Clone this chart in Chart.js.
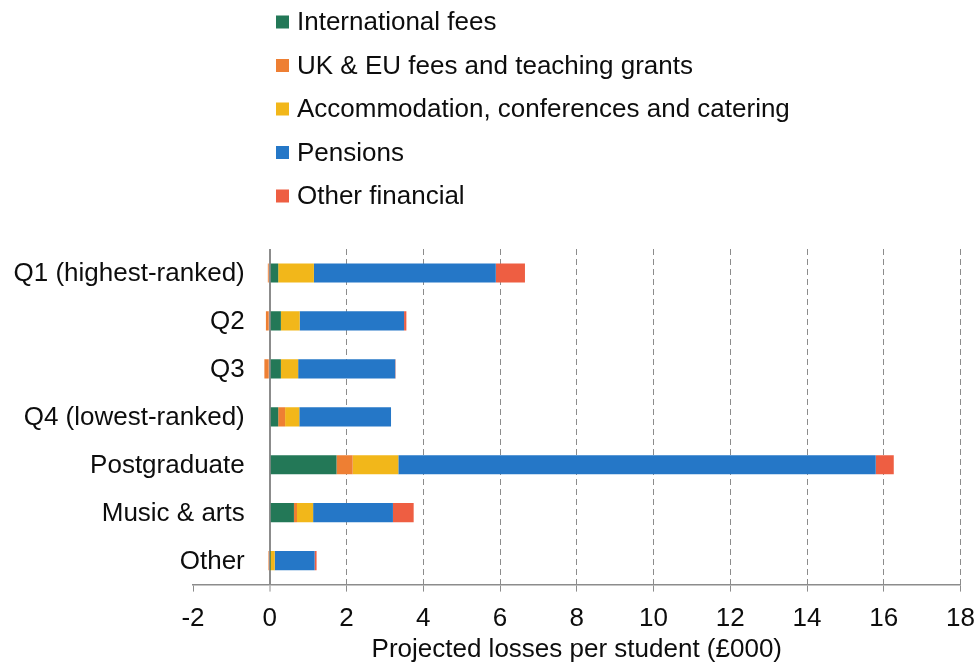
<!DOCTYPE html>
<html>
<head>
<meta charset="utf-8">
<script src="https://cdn.jsdelivr.net/npm/chart.js@4.4.0/dist/chart.umd.min.js"></script>
<style>
  html, body { margin: 0; padding: 0; background: #ffffff; }
  #wrap { width: 978px; height: 664px; }
</style>
</head>
<body>
<div id="wrap"><canvas id="c" width="978" height="664"></canvas></div>
<script>
// ---- Data ----
const categories = ["Q1 (highest-ranked)", "Q2", "Q3", "Q4 (lowest-ranked)", "Postgraduate", "Music & arts", "Other"];
const seriesNames = ["International fees", "UK & EU fees and teaching grants", "Accommodation, conferences and catering", "Pensions", "Other financial"];
const internationalFees = [0.22, 0.29, 0.29, 0.22, 1.74, 0.63, 0.01];
const ukEuFees = [-0.05, -0.10, -0.14, 0.18, 0.42, 0.08, -0.04];
const accommodation = [0.93, 0.49, 0.45, 0.37, 1.19, 0.42, 0.12];
const pensions = [4.74, 2.72, 2.53, 2.39, 12.44, 2.08, 1.04];
const otherFinancial = [0.76, 0.06, 0.01, 0.00, 0.47, 0.54, 0.05];
const xTicks = [-2, 0, 2, 4, 6, 8, 10, 12, 14, 16, 18];
const xTitle = "Projected losses per student (£000)";

const colors = ["#237857", "#EE7F33", "#F2B71A", "#2577C7", "#EE5E42"];
const seriesValues = [internationalFees, ukEuFees, accommodation, pensions, otherFinancial];

const FONT = "'Liberation Sans', Arial, sans-serif";
Chart.defaults.font.family = FONT;
Chart.defaults.font.size = 26;
Chart.defaults.color = "#0d0d0d";

const categoryLabels = {
  id: 'categoryLabels',
  afterDatasetsDraw(chart) {
    const ctx = chart.ctx;
    const xs = chart.scales.x, ys = chart.scales.y;
    const x0 = xs.getPixelForValue(0) - 25;
    ctx.save();
    ctx.font = "26px " + FONT;
    ctx.fillStyle = "#0d0d0d";
    ctx.textAlign = "right";
    ctx.textBaseline = "middle";
    categories.forEach((c, i) => {
      ctx.fillText(c, x0, ys.getPixelForValue(i) + 1);
    });
    ctx.restore();
  }
};

const sideLegend = {
  id: 'sideLegend',
  afterDraw(chart) {
    const ctx = chart.ctx;
    ctx.save();
    ctx.font = "26px " + FONT;
    ctx.textAlign = "left";
    ctx.textBaseline = "middle";
    chart.data.datasets.forEach((ds, i) => {
      const cy = 22 + i * 43.5;
      ctx.fillStyle = ds.backgroundColor;
      ctx.fillRect(276, cy - 6.5, 13, 13);
      ctx.fillStyle = "#0d0d0d";
      ctx.fillText(ds.label, 297, cy + 1);
    });
    ctx.restore();
  }
};

new Chart(document.getElementById('c'), {
  type: 'bar',
  data: {
    labels: categories,
    datasets: seriesNames.map((n, i) => ({
      label: n,
      data: seriesValues[i],
      backgroundColor: colors[i],
      borderWidth: 0,
      barPercentage: 0.4,
      categoryPercentage: 1.0
    }))
  },
  options: {
    indexAxis: 'y',
    responsive: false,
    animation: false,
    devicePixelRatio: 1,
    layout: { padding: { left: 193, right: 16, top: 249, bottom: 0 } },
    plugins: {
      legend: { display: false },
      tooltip: { enabled: false }
    },
    scales: {
      x: {
        type: 'linear',
        stacked: true,
        min: -2,
        max: 18,
        afterBuildTicks(scale) { scale.ticks = xTicks.map(v => ({ value: v })); },
        afterFit(scale) { scale.height = 79.4; },
        ticks: { padding: 3, font: { size: 26, lineHeight: 1.89 }, color: "#0d0d0d", maxRotation: 0 },
        grid: {
          drawTicks: true,
          tickLength: 7,
          tickColor: "#8c8c8c",
          tickWidth: 1,
          color: (ctx) => (ctx.tick && ctx.tick.value === -2) ? 'rgba(0,0,0,0)' : '#8c8c8c',
          lineWidth: (ctx) => (ctx.tick && ctx.tick.value === 0) ? 2 : 1
        },
        border: {
          display: true,
          color: "#8c8c8c",
          width: 1.5,
          dash: (ctx) => (ctx.tick && ctx.tick.value !== 0) ? [6, 4] : []
        },
        title: {
          display: true,
          text: xTitle,
          font: { size: 26, lineHeight: 1.1 },
          color: "#0d0d0d",
          padding: { top: 0, bottom: 0 }
        }
      },
      y: {
        type: 'category',
        stacked: true,
        display: false
      }
    }
  },
  plugins: [categoryLabels, sideLegend]
});
</script>
</body>
</html>
